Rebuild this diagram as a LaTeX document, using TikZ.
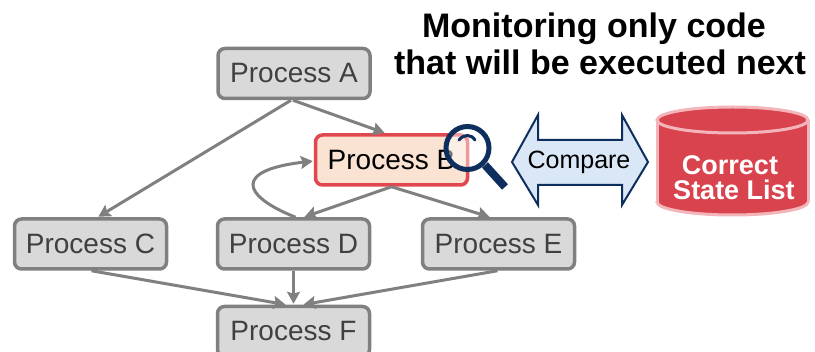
\documentclass[tikz,border=0pt]{standalone}
\usepackage{fontspec}
\setmainfont{Liberation Sans}
\usetikzlibrary{arrows.meta}
\definecolor{boxgray}{HTML}{D9D9D9}
\definecolor{bordergray}{HTML}{808080}
\definecolor{textgray}{HTML}{404040}
\definecolor{peach}{HTML}{FBE3D3}
\definecolor{bred}{HTML}{E0474F}
\definecolor{navy}{HTML}{0E2F5E}
\definecolor{lightblue}{HTML}{DAE7F7}
\definecolor{dbred}{HTML}{D9434E}
\definecolor{dbpink}{HTML}{F3B5BA}
\begin{document}
\begin{tikzpicture}[x=1pt,y=-1pt,
  procbox/.style={draw=bordergray, fill=boxgray, line width=3.5pt, rounded corners=7pt,
    minimum width=152pt, minimum height=50pt, inner sep=0pt, text=textgray,
    font=\fontsize{28}{30}\selectfont},
  activebox/.style={procbox, draw=bred, fill=peach, text=black},
  flow/.style={draw=bordergray, line width=3pt, shorten >=1pt,
    -{Stealth[length=12pt,width=13pt,inset=2pt]}},
  titletext/.style={anchor=base, inner sep=0pt, font=\bfseries\fontsize{34}{36}\selectfont},
  dbtext/.style={anchor=base, inner sep=0pt, text=white, font=\bfseries\fontsize{27}{27}\selectfont},
]
\useasboundingbox (0,0) rectangle (815,352);
\fill[white] (0,0) rectangle (815,352);

% process boxes
\node[procbox] (A) at (294,73.5) {Process A};
\node[activebox] (B) at (391.5,160) {Process B};
\node[procbox] (C) at (90.5,244) {Process C};
\node[procbox] (D) at (293.5,244) {Process D};
\node[procbox] (E) at (498.5,244) {Process E};
\node[procbox] (F) at (293.5,331.5) {Process F};

% connectors
\draw[flow] ([xshift=-1pt]A.south) -- ([xshift=-6pt]B.north);
\draw[flow] ([xshift=-3pt]A.south) -- ([xshift=7pt]C.north);
\draw[flow] (B.south) -- ([xshift=10pt]D.north);
\draw[flow] (B.south) -- ([xshift=-8pt]E.north);
\draw[flow] ([xshift=2pt]D.north) .. controls (240,195) and (235,170) .. ([yshift=-1pt]B.west);
\draw[flow] ([xshift=1pt]C.south) -- ([xshift=-7pt]F.north);
\draw[flow] (D.south) -- (F.north);
\draw[flow] ([xshift=-1pt]E.south) -- ([xshift=9pt]F.north);

% magnifier
\draw[navy, line width=5pt, fill=white, fill opacity=0.45] (467.5,148) circle (21.5);
\draw[navy, line width=3pt, line cap=round] (459,140) .. controls (464,134) and (471,134) .. (475,140);
\draw[navy, line width=8pt] (485,165) -- (505,187);

% compare double arrow
\draw[navy, line width=2pt, fill=lightblue, line join=miter]
  (512,162) -- (538,115) -- (538,140) -- (622,140) -- (622,115) -- (648,162)
  -- (622,205) -- (622,185) -- (538,185) -- (538,205) -- cycle;
\node[inner sep=0pt, font=\fontsize{25}{27}\selectfont] (cmp) at (579,162) {Compare};

% database cylinder
\fill[dbred, draw=dbpink, line width=3pt] (732.5,202) ellipse [x radius=75.5, y radius=13];
\fill[dbred] (657,120) rectangle (808,202);
\draw[dbpink, line width=3pt] (657,120) -- (657,202);
\draw[dbpink, line width=3pt] (808,120) -- (808,202);
\fill[dbred, draw=dbpink, line width=3pt] (732.5,120) ellipse [x radius=75.5, y radius=13];
\node[dbtext] (db1) at (730,175) {Correct};
\node[dbtext] (db2) at (734,200) {State List};

% title
\node[titletext] (t1) at (594,38) {Monitoring only code};
\node[titletext] (t2) at (600,75) {that will be executed next};
\end{tikzpicture}
\end{document}
